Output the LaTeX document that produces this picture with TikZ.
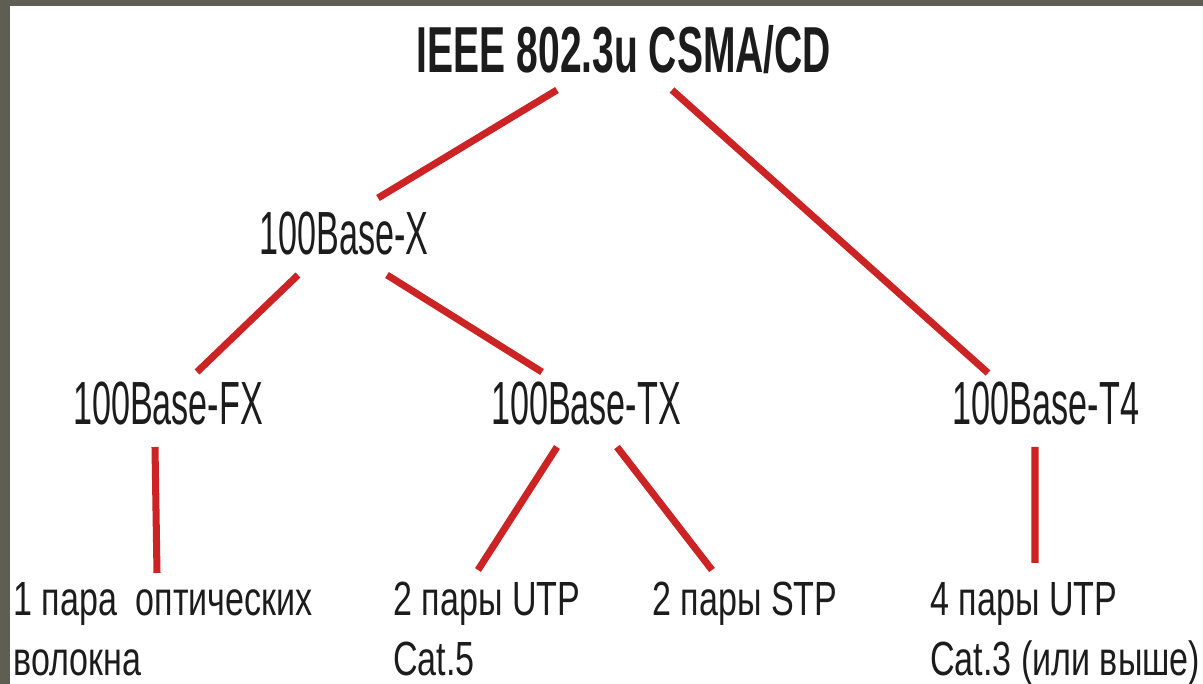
\documentclass[tikz,border=0pt]{standalone}
\usepackage{fontspec}
\setmainfont{Liberation Sans}
\newfontfamily\headfont[FakeStretch=0.60]{Liberation Sans}
\newfontfamily\stdfont[FakeStretch=0.56]{Liberation Sans}
\newfontfamily\mediafont[FakeStretch=0.71]{Liberation Sans}
\definecolor{wirered}{RGB}{204,36,36}
\definecolor{framegray}{RGB}{94,94,82}
\definecolor{inkgray}{RGB}{28,28,28}
\tikzset{
  headnode/.style={inner sep=0pt,anchor=base,text=inkgray,
    font=\headfont\bfseries\fontsize{37pt}{40pt}\selectfont},
  stdnode/.style={inner sep=0pt,anchor=base,text=inkgray,
    font=\stdfont\fontsize{34.7pt}{38pt}\selectfont},
  medianode/.style={inner sep=0pt,anchor=north west,align=left,text=inkgray,
    font=\mediafont\fontsize{27.3pt}{34pt}\selectfont},
  wire/.style={draw=wirered,line width=4pt},
  every picture/.style={line cap=butt,line join=round}
}
\begin{document}
\begin{tikzpicture}
  \useasboundingbox (0,0) rectangle (24.06,13.68);
  \fill[white] (0,0) rectangle (24.06,13.68);
  \fill[framegray] (0,0) rectangle (0.2,13.68);
  \fill[framegray] (0,13.56) rectangle (24.06,13.68);
  % standard and its branches
  \node[headnode] (ieee) at (12.48,12.22) {IEEE 802.3u CSMA/CD};
  \node[stdnode] (basex) at (6.88,8.58) {100Base-X};
  \node[stdnode] (fx) at (3.36,5.18) {100Base-FX};
  \node[stdnode] (tx) at (11.72,5.18) {100Base-TX};
  \node[stdnode] (tfour) at (20.92,5.18) {100Base-T4};
  % cabling
  \node[medianode] (fiber) at (0.26,2.04) {1 пара\ \ оптических\\волокна};
  \node[medianode] (utpfive) at (7.86,2.04) {2 пары UTP\\Cat.5};
  \node[medianode] (stp) at (13.04,2.04) {2 пары STP};
  \node[medianode] (utpthree) at (18.6,2.04) {4 пары UTP\\Cat.3 (или выше)};
  \draw[wire] ([xshift=-1.34cm,yshift=-0.34cm]ieee.base) -- ([xshift=0.68cm,yshift=1.14cm]basex.base);
  \draw[wire] ([xshift=0.96cm,yshift=-0.34cm]ieee.base) -- ([xshift=-1.16cm,yshift=1.04cm]tfour.base);
  \draw[wire] ([xshift=-0.92cm,yshift=-0.40cm]basex.base) -- ([xshift=0.58cm,yshift=1.06cm]fx.base);
  \draw[wire] ([xshift=0.86cm,yshift=-0.40cm]basex.base) -- ([xshift=-0.88cm,yshift=1.06cm]tx.base);
  \draw[wire] ([xshift=-0.26cm,yshift=-0.44cm]fx.base) -- ([xshift=2.88cm,yshift=0.18cm]fiber.north west);
  \draw[wire] ([xshift=-0.58cm,yshift=-0.44cm]tx.base) -- ([xshift=1.70cm,yshift=0.24cm]utpfive.north west);
  \draw[wire] ([xshift=0.62cm,yshift=-0.44cm]tx.base) -- ([xshift=1.20cm,yshift=0.24cm]stp.north west);
  \draw[wire] ([xshift=-0.22cm,yshift=-0.44cm]tfour.base) -- ([xshift=2.10cm,yshift=0.38cm]utpthree.north west);
\end{tikzpicture}
\end{document}
